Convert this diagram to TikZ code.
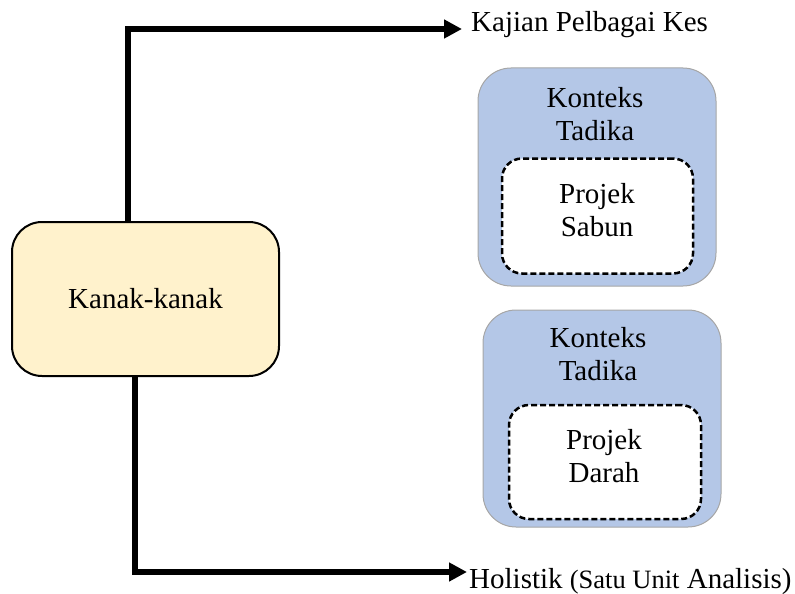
\documentclass[tikz,border=0pt]{standalone}
\usepackage{fontspec}
\setmainfont{Liberation Serif}
\usetikzlibrary{arrows.meta}
\definecolor{kanakfill}{HTML}{FFF2CC}
\definecolor{ctxfill}{HTML}{B4C7E7}
\definecolor{ctxline}{HTML}{A6A6A6}
\begin{document}
\begin{tikzpicture}[x=1pt,y=-1pt,
  bigfont/.style={font=\fontsize{29}{33}\selectfont},
  kanakbox/.style={draw=black, line width=2pt, fill=kanakfill, rounded corners=30pt, minimum width=267pt, minimum height=154pt, inner sep=0pt, bigfont},
  ctxbox/.style={draw=ctxline, line width=1pt, fill=ctxfill, rounded corners=33pt, minimum width=238pt, minimum height=218pt, inner sep=0pt},
  projbox/.style={draw=black, line width=2.5pt, dash pattern=on 6pt off 3pt, fill=white, rounded corners=20pt, minimum width=191pt, minimum height=115pt, inner sep=0pt},
  lbl/.style={bigfont, align=center, inner sep=0pt},
  conn/.style={line width=6pt, -{Triangle[length=18pt,width=18pt]}}
]
\useasboundingbox (0,0) rectangle (795,594);
% connectors' fixed points
\coordinate (topx) at (128,0);
\coordinate (botx) at (135,0);
\coordinate (kajtip) at (462,29);
\coordinate (holtip) at (467,572);
% left box
\node[kanakbox] (kanak) at (145.5,299) {Kanak-kanak};
\draw[conn] (kanak.north -| topx) |- (kajtip);
\draw[conn] (kanak.south -| botx) |- (holtip);
% labels of arrows
\node[bigfont, anchor=base west, inner sep=0pt] (kajian) at (471,32) {Kajian Pelbagai Kes};
\node[anchor=base west, inner sep=0pt] (holistik) at (469,588) {\fontsize{29}{33}\selectfont Holistik {\fontsize{26.5}{30}\selectfont (Satu Unit} Analisis)};
% context box 1
\node[ctxbox] (ctx1) at (597,177) {};
\node[projbox] (proj1) at (597.5,216) {};
\node[lbl] (ctx1lbl) at (595,114) {Konteks\\Tadika};
\node[lbl] (proj1lbl) at (597,210) {Projek\\Sabun};
% context box 2
\node[ctxbox, minimum height=217pt] (ctx2) at (602,418.5) {};
\node[projbox, minimum width=192pt, minimum height=114pt] (proj2) at (605,462) {};
\node[lbl] (ctx2lbl) at (598,354) {Konteks\\Tadika};
\node[lbl] (proj2lbl) at (604,456) {Projek\\Darah};
\end{tikzpicture}
\end{document}
